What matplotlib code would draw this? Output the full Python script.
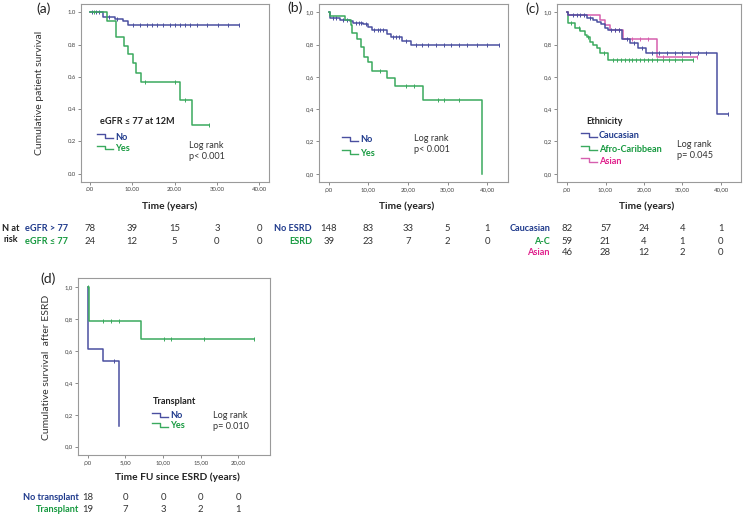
import numpy as np
import matplotlib
matplotlib.use('Agg')
import matplotlib.pyplot as plt
from matplotlib.transforms import blended_transform_factory

plt.rcParams['font.family'] = ['Lato', 'DejaVu Sans']

# ---------------- data ----------------
# Panel (a): eGFR <= 77 at 12M
a_no_t = [0, 3.2, 5.9, 7.9, 8.9, 35.2]
a_no_s = [1.0, 0.973, 0.959, 0.944, 0.921, 0.921]
a_no_c = [0.4, 1.4, 2.2, 4.5, 6.5, 10.2, 11.8, 13.4, 14.6, 15.8, 17.3, 18.9, 20.1,
          21.3, 22.5, 23.6, 25.2, 27.6, 30.3, 32.7, 35.2]
a_yes_t = [0, 4.1, 6.1, 8.1, 9.1, 10.1, 11.0, 12.0, 21.3, 24.0, 28.2]
a_yes_s = [1.0, 0.948, 0.845, 0.793, 0.74, 0.684, 0.626, 0.568, 0.457, 0.304, 0.304]
a_yes_c = [1.0, 13.0, 20.2, 22.4, 28.2]

# Panel (b): ESRD
b_no_t = [0, 0.3, 2.8, 5.3, 6.2, 8.7, 10.0, 10.8, 14.6, 15.6, 18.6, 20.8, 42.9]
b_no_s = [1.0, 0.965, 0.955, 0.945, 0.935, 0.928, 0.91, 0.893, 0.865, 0.848, 0.825, 0.80, 0.80]
b_no_c = [1.0, 1.8, 3.5, 4.5, 6.8, 7.5, 8.2, 9.3, 11.5, 12.3, 13.0, 13.8, 16.3, 17.0,
          17.8, 19.5, 22.0, 23.5, 25.0, 27.0, 29.0, 31.0, 33.0, 35.0, 37.5, 40.0, 42.9]
b_yes_t = [0, 0.3, 4.05, 5.5, 5.8, 7.2, 8.1, 8.9, 10.0, 11.0, 14.6, 16.7, 23.9, 38.8]
b_yes_s = [1.0, 0.975, 0.95, 0.924, 0.872, 0.837, 0.783, 0.723, 0.69, 0.634, 0.593,
           0.545, 0.459, 0.0]
b_yes_c = [13.0, 19.5, 21.5, 27.6, 29.0, 33.0]

# Panel (c): Ethnicity
c_cau_t = [0, 0.3, 5.1, 6.8, 7.7, 8.8, 9.9, 10.6, 14.3, 16.4, 18.5, 20.5, 38.9, 41.9]
c_cau_s = [1.0, 0.98, 0.967, 0.955, 0.942, 0.925, 0.905, 0.89, 0.833, 0.81, 0.78,
           0.75, 0.373, 0.373]
c_cau_c = [1.5, 2.5, 3.5, 4.5, 6.0, 11.5, 12.5, 13.5, 15.5, 17.5, 19.5, 22.0, 24.0,
           26.0, 28.0, 30.0, 32.0, 34.0, 36.0, 41.9]
c_afr_t = [0, 0.2, 2.1, 3.4, 4.7, 5.1, 6.0, 6.8, 7.7, 8.6, 10.6, 32.8]
c_afr_s = [1.0, 0.935, 0.9, 0.885, 0.86, 0.845, 0.818, 0.797, 0.777, 0.746, 0.705, 0.705]
c_afr_c = [1.0, 3.0, 5.5, 9.5, 12.0, 13.0, 14.0, 15.0, 16.0, 17.0, 18.0, 19.0, 20.0,
           21.0, 22.0, 23.5, 25.0, 26.5, 28.0, 30.0, 32.8]
c_asi_t = [0, 0.3, 8.6, 9.9, 11.2, 14.5, 23.5, 33.7]
c_asi_s = [1.0, 0.98, 0.952, 0.92, 0.89, 0.833, 0.725, 0.725]
c_asi_c = [12.5, 13.5, 17.0, 19.0, 21.0, 25.0, 33.7]

# Panel (d): Transplant after ESRD
d_no_t = [0, 0.05, 2.0, 4.1]
d_no_s = [1.0, 0.611, 0.536, 0.132]
d_no_c = [3.5]
d_yes_t = [0, 0.1, 7.05, 22.1]
d_yes_s = [1.0, 0.789, 0.678, 0.678]
d_yes_c = [0.0, 2.0, 3.1, 4.1, 10.1, 11.0, 15.5, 22.1]

# tick values / labels
abc_xticks = [0, 10, 20, 30, 40]
d_xticks = [0, 5, 10, 15, 20]
yticks = [0.0, 0.2, 0.4, 0.6, 0.8, 1.0]
a_xticklabels = ['.00', '10.00', '20.00', '30.00', '40.00']
a_yticklabels = ['0.0', '0.2', '0.4', '0.6', '0.8', '1.0']
bc_xticklabels = [',00', '10,00', '20,00', '30,00', '40,00']
bcd_yticklabels = ['0,0', '0,2', '0,4', '0,6', '0,8', '1,0']
d_xticklabels = [',00', '5,00', '10,00', '15,00', '20,00']

# numbers at risk
a_risk_labels = ['eGFR > 77', 'eGFR \u2264 77']
a_risk = [[78, 39, 15, 3, 0], [24, 12, 5, 0, 0]]
b_risk_labels = ['No ESRD', 'ESRD']
b_risk = [[148, 83, 33, 5, 1], [39, 23, 7, 2, 0]]
c_risk_labels = ['Caucasian', 'A-C', 'Asian']
c_risk = [[82, 57, 24, 4, 1], [59, 21, 4, 1, 0], [46, 28, 12, 2, 0]]
d_risk_labels = ['No transplant', 'Transplant']
d_risk = [[18, 0, 0, 0, 0], [19, 7, 3, 2, 1]]

# ---------------- style ----------------
BLUE_LINE = '#4a4fa0'
GREEN_LINE = '#3aaa5e'
PINK_LINE = '#d65fae'
BLUE_TXT = '#1f3a8c'
GREEN_TXT = '#16993f'
PINK_TXT = '#e0208c'
SPINE = '#9a9a9a'
TXT = '#333333'
FS = 6.6

W, H = 744, 517
fig = plt.figure(figsize=(W / 100, H / 100), dpi=100)


def fx(x):
    return x / W


def fy(y):
    return 1 - y / H


def make_ax(box, xlim, ylim, xticks, xlabels, ylabels):
    x0, y0, x1, y1 = box
    ax = fig.add_axes([fx(x0), fy(y1), (x1 - x0) / W, (y1 - y0) / H])
    ax.set_xlim(*xlim)
    ax.set_ylim(*ylim)
    ax.set_xticks(xticks)
    ax.set_xticklabels(xlabels)
    ax.set_yticks(yticks)
    ax.set_yticklabels(ylabels)
    ax.tick_params(labelsize=4.3, length=2, width=0.6, color='#777777',
                   labelcolor='#444444', pad=1.5)
    for s in ax.spines.values():
        s.set_color(SPINE)
        s.set_linewidth(0.8)
    return ax


def km(ax, t, s, c, color):
    t = np.asarray(t, float)
    s = np.asarray(s, float)
    ax.step(t, s, where='post', color=color, lw=1.1)
    c = np.asarray(c, float)
    idx = np.searchsorted(t, c, side='right') - 1
    ax.plot(c, s[idx], ls='none', marker='|', ms=3, mew=0.7, color=color)


def legend_item(x, y, text, line_color, text_color):
    # step-shaped legend key followed by label (pixel coordinates)
    xs = [x - 18, x - 10, x - 10, x - 2]
    ys = [y - 3, y - 3, y + 0.8, y + 0.8]
    fig.add_artist(plt.Line2D([fx(v) for v in xs], [fy(v) for v in ys],
                              transform=fig.transFigure, color=line_color, lw=1.0))
    fig.text(fx(x), fy(y), text, color=text_color, fontsize=FS, fontweight='bold',
             ha='left', va='center')


def txt(x, y, s, **kw):
    kw.setdefault('fontsize', FS)
    kw.setdefault('color', TXT)
    kw.setdefault('va', 'center')
    fig.text(fx(x), fy(y), s, **kw)


def risk_table(ax, ticks, rows, labels, colors, label_x, ys):
    tr = blended_transform_factory(ax.transData, fig.transFigure)
    for row, lab, col, y in zip(rows, labels, colors, ys):
        txt(label_x, y, lab, color=col, fontweight='bold', ha='right')
        for xv, n in zip(ticks, row):
            fig.text(xv, fy(y), str(n), transform=tr, fontsize=FS + 0.2, color=TXT,
                     ha='center', va='center')


# ---------------- panel (a) ----------------
axa = make_ax((81, 4, 269, 182), (-2.1, 42.3), (-0.051, 1.051),
              abc_xticks, a_xticklabels, a_yticklabels)
km(axa, a_no_t, a_no_s, a_no_c, BLUE_LINE)
km(axa, a_yes_t, a_yes_s, a_yes_c, GREEN_LINE)
txt(36, 9, '(a)', fontsize=10, color='#222222', ha='left')
txt(40, 93, 'Cumulative patient survival', rotation=90, ha='center', fontsize=7.5)
txt(100, 122, 'eGFR \u2264 77 at 12M', fontweight='bold', ha='left', color='#222222')
legend_item(115, 137, 'No', BLUE_LINE, BLUE_TXT)
legend_item(115, 148.5, 'Yes', GREEN_LINE, GREEN_TXT)
txt(189, 145.5, 'Log rank', ha='left')
txt(189, 156.5, 'p< 0.001', ha='left')
txt(170, 206, 'Time (years)', fontweight='bold', ha='center', fontsize=7.3, color='#222222')
txt(11, 228, 'N at', fontweight='bold', ha='center', color='#222222')
txt(11, 240, 'risk', fontweight='bold', ha='center', color='#222222')
risk_table(axa, abc_xticks, a_risk, a_risk_labels, [BLUE_TXT, GREEN_TXT], 68, [228, 241])

# ---------------- panel (b) ----------------
axb = make_ax((319, 4, 508, 182), (-2.5, 45.3), (-0.051, 1.051),
              abc_xticks, bc_xticklabels, bcd_yticklabels)
km(axb, b_no_t, b_no_s, b_no_c, BLUE_LINE)
km(axb, b_yes_t, b_yes_s, b_yes_c, GREEN_LINE)
txt(287, 8, '(b)', fontsize=10, color='#222222', ha='left')
legend_item(360, 140, 'No', BLUE_LINE, BLUE_TXT)
legend_item(360, 153, 'Yes', GREEN_LINE, GREEN_TXT)
txt(414, 138.3, 'Log rank', ha='left')
txt(414, 150, 'p< 0.001', ha='left')
txt(407, 206, 'Time (years)', fontweight='bold', ha='center', fontsize=7.3, color='#222222')
risk_table(axb, abc_xticks, b_risk, b_risk_labels, [BLUE_TXT, GREEN_TXT], 312, [228, 241])

# ---------------- panel (c) ----------------
axc = make_ax((557, 4, 741, 182), (-2.6, 45.2), (-0.051, 1.051),
              abc_xticks, bc_xticklabels, bcd_yticklabels)
km(axc, c_afr_t, c_afr_s, c_afr_c, GREEN_LINE)
km(axc, c_asi_t, c_asi_s, c_asi_c, PINK_LINE)
km(axc, c_cau_t, c_cau_s, c_cau_c, BLUE_LINE)
txt(525, 8.5, '(c)', fontsize=10, color='#222222', ha='left')
txt(586, 121.7, 'Ethnicity', fontweight='bold', ha='left', color='#222222')
legend_item(599, 136, 'Caucasian', BLUE_LINE, BLUE_TXT)
legend_item(599, 149, 'Afro-Caribbean', GREEN_LINE, GREEN_TXT)
legend_item(599, 161, 'Asian', PINK_LINE, PINK_TXT)
txt(677, 144.3, 'Log rank', ha='left')
txt(677, 155.3, 'p= 0.045', ha='left')
txt(647, 206, 'Time (years)', fontweight='bold', ha='center', fontsize=7.3, color='#222222')
risk_table(axc, abc_xticks, c_risk, c_risk_labels, [BLUE_TXT, GREEN_TXT, PINK_TXT],
           550, [228, 241, 253])

# ---------------- panel (d) ----------------
axd = make_ax((78, 278, 270, 455), (-1.3, 24.2), (-0.052, 1.058),
              d_xticks, d_xticklabels, bcd_yticklabels)
km(axd, d_no_t, d_no_s, d_no_c, BLUE_LINE)
km(axd, d_yes_t, d_yes_s, d_yes_c, GREEN_LINE)
txt(40, 279, '(d)', fontsize=10, color='#222222', ha='left')
txt(47, 367, 'Cumulative survival  after ESRD', rotation=90, ha='center', fontsize=7.5)
txt(153, 401.7, 'Transplant', fontweight='bold', ha='left', color='#222222')
legend_item(170, 416, 'No', BLUE_LINE, BLUE_TXT)
legend_item(170, 426, 'Yes', GREEN_LINE, GREEN_TXT)
txt(213, 416, 'Log rank', ha='left')
txt(213, 426.7, 'p= 0.010', ha='left')
txt(177, 477, 'Time FU since ESRD (years)', fontweight='bold', ha='center', fontsize=7.3,
    color='#222222')
risk_table(axd, d_xticks, d_risk, d_risk_labels, [BLUE_TXT, GREEN_TXT], 79, [498, 510])

fig.savefig('out.png', dpi=100)
